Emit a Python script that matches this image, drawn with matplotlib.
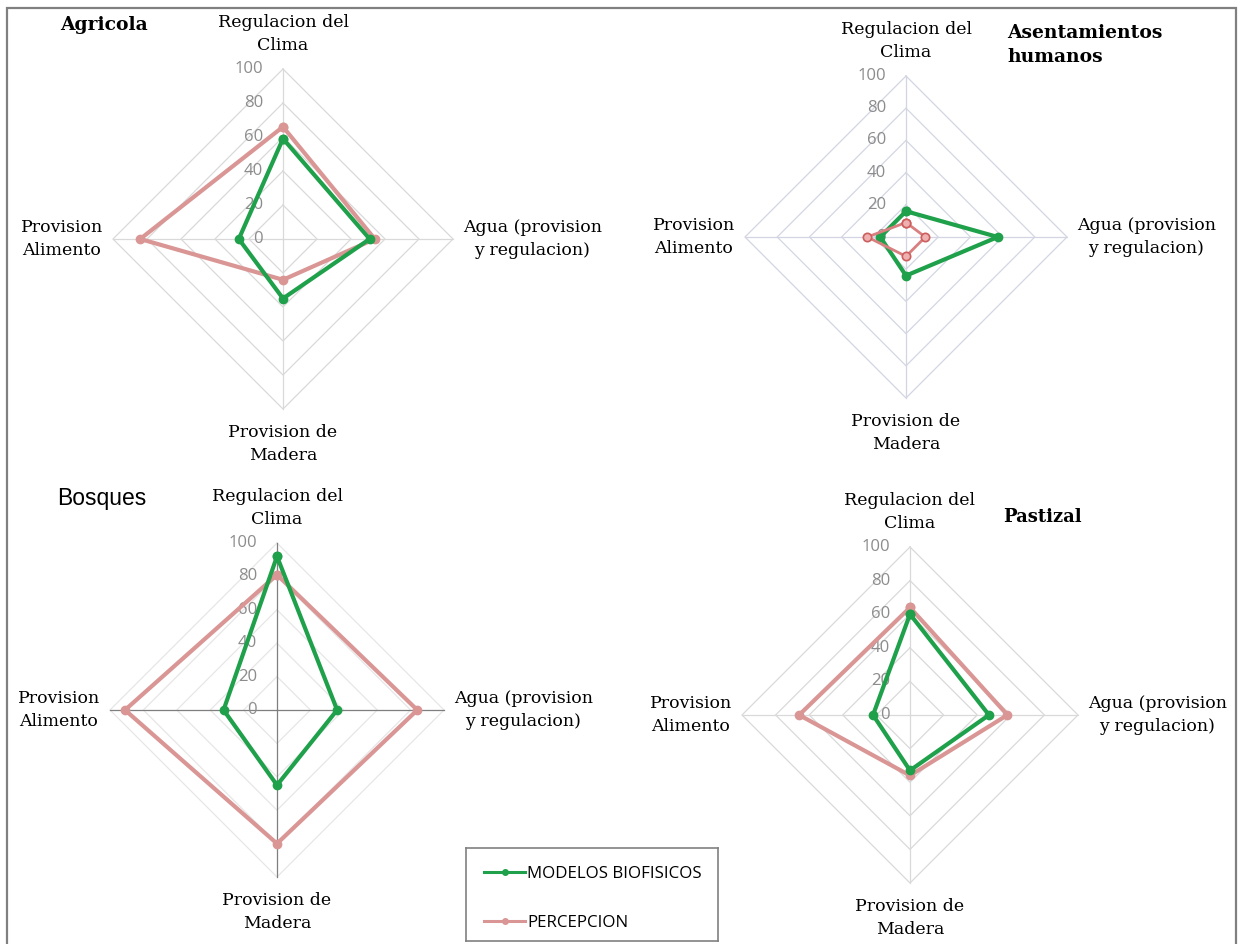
import numpy as np
import matplotlib.pyplot as plt
from matplotlib.lines import Line2D
from matplotlib.patches import Rectangle

# order of the axes: top, right, bottom, left
categorias = ['Regulacion del\nClima', 'Agua (provision\ny regulacion)',
              'Provision de\nMadera', 'Provision\nAlimento']
niveles = [0, 20, 40, 60, 80, 100]

agricola_modelos = [59, 51, 35, 26]
agricola_percepcion = [66, 54, 24, 84]
asentamientos_modelos = [16, 57, 24, 16]
asentamientos_percepcion = [9, 12, 12, 24]
bosques_modelos = [92, 36, 45, 32]
bosques_percepcion = [81, 84, 80, 91]
pastizal_modelos = [60, 47, 33, 22]
pastizal_percepcion = [64, 58, 36, 66]

W, H = 1240, 944
verde = '#1fa04a'
rosa = '#d99694'
serif = 'DejaVu Serif'

angulos = np.deg2rad([90, 0, -90, 180])
cosa = np.round(np.cos(angulos), 6)
sina = np.round(np.sin(angulos), 6)

fig = plt.figure(figsize=(W / 100, H / 100), dpi=100)


def cerrar(vals):
    v = np.array(vals, dtype=float)
    x = v * cosa
    y = v * sina
    return np.append(x, x[0]), np.append(y, y[0])


def radar(cx, cy, r, modelos, percepcion, grid_c='#d9d9d9', spoke_c='#d9d9d9',
          rosa_fino=False):
    ax = fig.add_axes([(cx - r) / W, 1 - (cy + r) / H, 2 * r / W, 2 * r / H])
    ax.set_xlim(-100, 100)
    ax.set_ylim(-100, 100)
    ax.axis('off')
    k = 100.0 / r  # data units per pixel

    for n in niveles[1:]:
        gx, gy = cerrar([n] * 4)
        ax.plot(gx, gy, color=grid_c, lw=0.9, zorder=1, clip_on=False)
    for c, s in zip(cosa, sina):
        ax.plot([0, 100 * c], [0, 100 * s], color=spoke_c, lw=0.9, zorder=1, clip_on=False)

    for n in niveles:
        ax.text(-20 * k, n, str(n), ha='right', va='center', color='#8c8c8c',
                fontsize=12, family='Open Sans', zorder=2)

    tx, ty = cerrar(modelos)
    ax.plot(tx, ty, color=verde, lw=3, marker='o', ms=6, zorder=4, clip_on=False)
    px, py = cerrar(percepcion)
    if rosa_fino:
        ax.plot(px, py, color='#d97f7f', lw=2, marker='o', ms=6,
                mfc='#efb0b0', mec='#cc5e5e', mew=1.2, zorder=5, clip_on=False)
    else:
        ax.plot(px, py, color=rosa, lw=3, marker='o', ms=6, zorder=3, clip_on=False)

    fs = 12.5
    ls = 1.45
    ax.text(0, 100 + 15 * k, categorias[0], ha='center', va='bottom', fontsize=fs,
            family=serif, linespacing=ls, multialignment='center')
    ax.text(100 + 10 * k, 0, categorias[1], ha='left', va='center', fontsize=fs,
            family=serif, linespacing=ls, multialignment='center')
    ax.text(0, -100 - 15 * k, categorias[2], ha='center', va='top', fontsize=fs,
            family=serif, linespacing=ls, multialignment='center')
    ax.text(-100 - 10 * k, 0, categorias[3], ha='right', va='center', fontsize=fs,
            family=serif, linespacing=ls, multialignment='center')
    return ax


radar(283, 239, 170, agricola_modelos, agricola_percepcion)
radar(906, 237, 161, asentamientos_modelos, asentamientos_percepcion,
      grid_c='#d3d6e2', spoke_c='#d3d6e2', rosa_fino=True)
radar(277, 710, 167, bosques_modelos, bosques_percepcion,
      grid_c='#e6e6e6', spoke_c='#7f7f7f')
radar(910, 715, 168, pastizal_modelos, pastizal_percepcion)

# panel titles
fig.text(60 / W, 1 - 30 / H, 'Agricola', fontsize=13.5, family=serif,
         fontweight='bold', ha='left', va='baseline')
fig.text(1007 / W, 1 - 45 / H, 'Asentamientos\nhumanos', fontsize=13.5, family=serif,
         fontweight='bold', ha='left', va='center', linespacing=1.45)
fig.text(57 / W, 1 - 499 / H, 'Bosques', fontsize=16.5, family='Liberation Sans',
         ha='left', va='center')
fig.text(1003 / W, 1 - 517 / H, 'Pastizal', fontsize=13, family=serif,
         fontweight='bold', ha='left', va='center')

# legend box
lx0, ly0, lx1, ly1 = 466, 848, 718, 941
lax = fig.add_axes([lx0 / W, 1 - ly1 / H, (lx1 - lx0) / W, (ly1 - ly0) / H])
lax.set_xticks([])
lax.set_yticks([])
for sp in lax.spines.values():
    sp.set_color('#808080')
    sp.set_linewidth(1.2)
handles = [Line2D([], [], color=verde, lw=2.2, marker='o', ms=4),
           Line2D([], [], color=rosa, lw=2.2, marker='o', ms=4)]
lax.legend(handles, ['MODELOS BIOFISICOS', 'PERCEPCION'], loc='center left',
           bbox_to_anchor=(0.012, 0.457), frameon=False, handlelength=2.4,
           handletextpad=0.12, labelspacing=1.9,
           prop={'family': 'Open Sans', 'size': 12.2})

# outer border
fig.patches.append(Rectangle((7 / W, -0.05), (1236 - 7) / W, 1.05 - 7.5 / H,
                             transform=fig.transFigure, fill=False,
                             edgecolor='#808080', lw=1.6))

fig.savefig('out.png', dpi=100, facecolor='white')
